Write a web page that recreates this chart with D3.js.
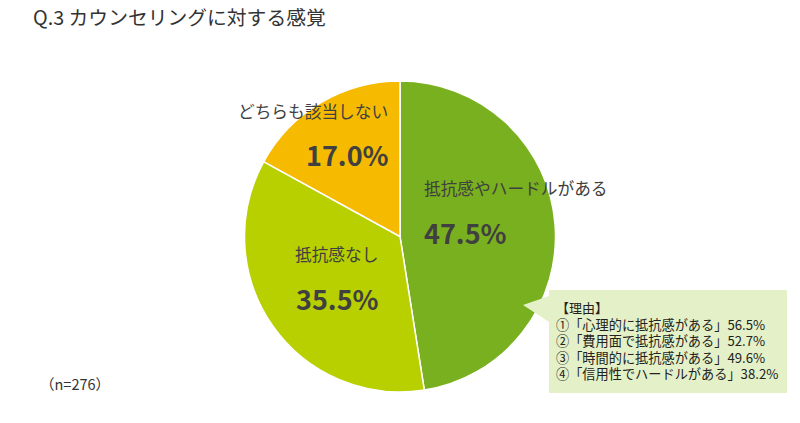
<!DOCTYPE html>
<html><head><meta charset="utf-8">
<script src="https://cdn.jsdelivr.net/npm/d3@7"></script>
<style>body{margin:0;background:#fff}svg{display:block;font-family:"Noto Sans CJK JP","Noto Sans",sans-serif}</style>
</head><body>
<svg id="c" width="800" height="423"></svg>
<script>
const title = "Q.3 カウンセリングに対する感覚";
const categories = ["抵抗感やハードルがある", "抵抗感なし", "どちらも該当しない"];
const values = [47.5, 35.5, 17.0];
const colors = ["#79b01f", "#b8cf00", "#f6bb00"];
const reasonTitle = "【理由】";
const reasons = ["①「心理的に抵抗感がある」56.5%", "②「費用面で抵抗感がある」52.7%", "③「時間的に抵抗感がある」49.6%", "④「信用性でハードルがある」38.2%"];
const note = "（n=276）";

const svg = d3.select("#c");
const cx = 400, cy = 236.5, r = 155.5;

svg.append("text").attr("x", 33).attr("y", 25).attr("font-size", 19.8).attr("fill", "#333").text(title);

const pie = d3.pie().sort(null).value(d => d)(values);
const arc = d3.arc().innerRadius(0).outerRadius(r);
const g = svg.append("g").attr("transform", `translate(${cx},${cy})`);
g.selectAll("path").data(pie).join("path")
  .attr("d", arc).attr("fill", (d, i) => colors[i])
  .attr("stroke", "#fff").attr("stroke-width", 1.5);

const labelPos = [
  {x: 424, y: 195, px: 424, py: 244},
  {x: 295, y: 261, px: 296, py: 310},
  {x: 238, y: 118, px: 306, py: 166}
];
labelPos.forEach((p, i) => {
  svg.append("text").attr("x", p.x).attr("y", p.y).attr("font-size", 16.7).attr("fill", "#404040").text(categories[i]);
  svg.append("text").attr("x", p.px).attr("y", p.py).attr("font-size", 27).attr("font-weight", "bold").attr("fill", "#404040").text(d3.format(".1f")(values[i]) + "%");
});

svg.append("path").attr("d", "M549,290 L787,290 L787,393 L549,393 L549,322 L523,305 L549,296 Z").attr("fill", "#e4f1c8");
svg.append("text").attr("x", 556).attr("y", 313).attr("font-size", 13).attr("fill", "#222").text(reasonTitle);
reasons.forEach((t, i) => svg.append("text").attr("x", 556).attr("y", 330 + i * 16.3).attr("font-size", 13.2).attr("fill", "#222").text(t));

svg.append("text").attr("x", 40).attr("y", 390).attr("font-size", 14.5).attr("fill", "#333").text(note);
</script>
</body></html>
